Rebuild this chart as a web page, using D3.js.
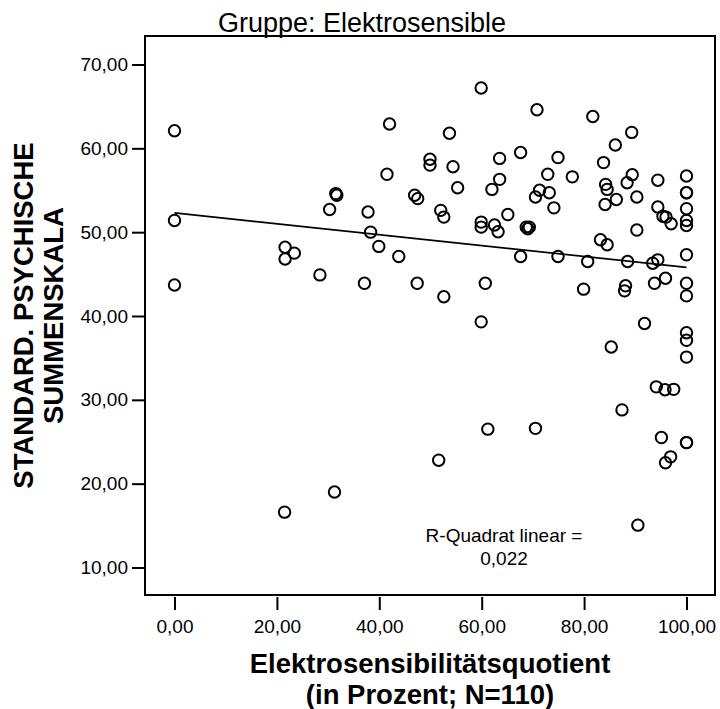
<!DOCTYPE html>
<html>
<head>
<meta charset="utf-8">
<script src="https://cdn.jsdelivr.net/npm/d3@7"></script>
<style>
  html, body { margin: 0; padding: 0; background: #fff; }
  svg { display: block; font-family: "Liberation Sans", Arial, sans-serif; }
</style>
</head>
<body>
<svg id="chart" width="720" height="709"></svg>
<script>
// Elektrosensibilitätsquotient (%) per respondent
const quotient = [
  0, 0, 0, 21.6, 23.4, 21.6, 28.4, 30.3, 31.5, 31.7,
  42.0, 53.7, 59.9, 67.6, 63.5, 49.9, 49.9, 54.4, 41.5, 63.5,
  62.0, 55.3, 46.9, 47.5, 37.8, 52.0, 52.6, 59.9, 59.9, 62.5,
  63.2, 65.1, 68.7, 69.0, 69.3, 38.3, 39.9, 43.8, 67.6, 37.1,
  47.4, 60.7, 52.6, 59.9, 70.8, 81.7, 89.3, 86.1, 74.9, 83.8,
  72.9, 77.7, 89.4, 88.4, 84.2, 84.5, 94.4, 100, 71.3, 70.5,
  73.2, 74.1, 90.3, 86.3, 84.1, 100, 100, 94.4, 95.4, 96.0,
  97.0, 100, 100, 90.3, 83.2, 84.5, 74.9, 80.7, 88.5, 93.4,
  94.4, 100, 79.9, 88.1, 87.9, 93.75, 95.9, 100, 100, 91.8,
  100, 100, 100, 85.3, 94.1, 95.8, 97.5, 87.4, 70.5, 95.1,
  100, 100, 96.9, 95.9, 90.5, 61.2, 51.6, 31.25, 21.5, 100
];
// standardisierte psychische Summenskala per respondent
const psychScore = [
  62.1, 51.4, 43.7, 48.2, 47.5, 46.8, 44.9, 52.7, 54.6, 54.4,
  62.9, 61.8, 67.2, 59.5, 58.8, 58.7, 58.0, 57.8, 56.9, 56.3,
  55.1, 55.3, 54.4, 54.0, 52.4, 52.6, 51.8, 51.2, 50.6, 50.85,
  50.05, 52.1, 50.6, 50.4, 50.6, 50.0, 48.3, 47.1, 47.1, 43.9,
  43.9, 43.9, 42.3, 39.3, 64.6, 63.8, 61.9, 60.4, 58.9, 58.3,
  56.9, 56.6, 56.85, 55.9, 55.7, 55.1, 56.2, 56.7, 55.0, 54.2,
  54.7, 52.9, 54.2, 53.9, 53.3, 54.7, 52.8, 53.0, 51.9, 51.8,
  51.0, 51.4, 50.8, 50.25, 49.1, 48.5, 47.1, 46.5, 46.5, 46.3,
  46.7, 47.3, 43.2, 43.6, 43.0, 43.9, 44.5, 43.9, 42.4, 39.1,
  38.0, 37.1, 35.1, 36.3, 31.55, 31.2, 31.25, 28.8, 26.6, 25.5,
  24.9, 24.9, 23.2, 22.5, 15.05, 26.5, 22.8, 19.0, 16.6, 54.7
];

const xTicks = [0, 20, 40, 60, 80, 100];
const yTicks = [10, 20, 30, 40, 50, 60, 70];

const titleText = "Gruppe: Elektrosensible";
const xTitleLines = ["Elektrosensibilitätsquotient", "(in Prozent; N=110)"];
const yTitleLines = ["STANDARD. PSYCHISCHE", "SUMMENSKALA"];
const fitLabelLines = ["R-Quadrat linear =", "0,022"];

const svg = d3.select("#chart");
const frame = { left: 145, right: 715, top: 36, bottom: 595 };

const x = d3.scaleLinear().domain([0, 100]).range([174.5, 686.5]);
const y = d3.scaleLinear().domain([10, 70]).range([567.5, 64.5]);
const fmt = v => d3.format(".2f")(v).replace(".", ",");

// plot frame
svg.append("rect")
  .attr("x", frame.left).attr("y", frame.top)
  .attr("width", frame.right - frame.left)
  .attr("height", frame.bottom - frame.top)
  .attr("fill", "none").attr("stroke", "#000").attr("stroke-width", 2);

// x axis
const xAxis = d3.axisBottom(x).tickValues(xTicks).tickFormat(fmt)
  .tickSize(13).tickPadding(10);
const gx = svg.append("g").attr("transform", `translate(0,${frame.bottom + 2})`).call(xAxis);
gx.select(".domain").remove();
gx.selectAll(".tick line").attr("stroke", "#000").attr("stroke-width", 2);
gx.selectAll(".tick text").attr("font-size", 19).attr("fill", "#000")
  .attr("font-family", "Liberation Sans, Arial, sans-serif");

// y axis
const yAxis = d3.axisLeft(y).tickValues(yTicks).tickFormat(fmt)
  .tickSize(13).tickPadding(4);
const gy = svg.append("g").attr("transform", `translate(${frame.left},0)`).call(yAxis);
gy.select(".domain").remove();
gy.selectAll(".tick line").attr("stroke", "#000").attr("stroke-width", 2);
gy.selectAll(".tick text").attr("font-size", 19).attr("fill", "#000")
  .attr("font-family", "Liberation Sans, Arial, sans-serif");

// least-squares fit line
const n = quotient.length;
const mx = d3.mean(quotient), my = d3.mean(psychScore);
let sxy = 0, sxx = 0;
for (let i = 0; i < n; i++) {
  sxy += (quotient[i] - mx) * (psychScore[i] - my);
  sxx += (quotient[i] - mx) ** 2;
}
const slope = sxy / sxx;
const intercept = my - slope * mx;
const [x0, x1] = d3.extent(quotient);
svg.append("line")
  .attr("x1", x(x0)).attr("y1", y(intercept + slope * x0))
  .attr("x2", x(x1)).attr("y2", y(intercept + slope * x1))
  .attr("stroke", "#000").attr("stroke-width", 1.7);

// data points
svg.append("g").selectAll("circle")
  .data(d3.range(n))
  .join("circle")
  .attr("cx", i => x(quotient[i]))
  .attr("cy", i => y(psychScore[i]))
  .attr("r", 5.7)
  .attr("fill", "none")
  .attr("stroke", "#000")
  .attr("stroke-width", 2);

// fit statistic label
svg.append("text")
  .attr("x", 504).attr("y", 542)
  .attr("text-anchor", "middle").attr("font-size", 19)
  .selectAll("tspan").data(fitLabelLines).join("tspan")
  .attr("x", 504).attr("dy", (d, i) => i === 0 ? 0 : 22.5)
  .text(d => d);

// chart title
svg.append("text")
  .attr("x", 362).attr("y", 32)
  .attr("text-anchor", "middle").attr("font-size", 27)
  .text(titleText);

// x axis title
svg.append("g").selectAll("text").data(xTitleLines).join("text")
  .attr("x", (frame.left + frame.right) / 2)
  .attr("y", (d, i) => 673 + i * 31)
  .attr("text-anchor", "middle")
  .attr("font-size", 27.5).attr("font-weight", "bold")
  .text(d => d);

// y axis title
svg.append("g").selectAll("text").data(yTitleLines).join("text")
  .attr("transform", (d, i) => `translate(${33 + i * 30},${(frame.top + frame.bottom) / 2}) rotate(-90)`)
  .attr("text-anchor", "middle")
  .attr("font-size", 27.5).attr("font-weight", "bold")
  .text(d => d);
</script>
</body>
</html>
